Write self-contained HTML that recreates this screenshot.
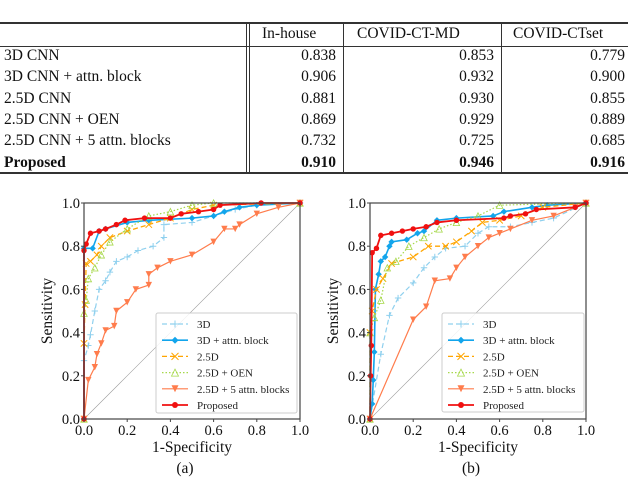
<!DOCTYPE html>
<html><head><meta charset="utf-8"><style>
body{margin:0;width:640px;height:481px;background:#fff;overflow:hidden;position:relative;font-family:"Liberation Serif",serif;}
.t{position:absolute;font-size:15.5px;line-height:1;white-space:nowrap;color:#111}
.rule{position:absolute;left:0;width:628px;background:#333}
.vl{position:absolute;width:1px;background:#333}
</style></head><body>
<div>
<div class="rule" style="top:22px;height:1.5px"></div>
<div class="rule" style="top:46px;height:1px"></div>
<div class="rule" style="top:172px;height:1.5px"></div>
<div class="vl" style="left:246px;top:22px;height:151px"></div>
<div class="vl" style="left:249px;top:22px;height:151px"></div>
<div class="vl" style="left:343px;top:22px;height:151px"></div>
<div class="vl" style="left:501px;top:22px;height:151px"></div>
<div class="t" style="left:262px;top:26px">In-house</div>
<div class="t" style="left:357px;top:26px">COVID-CT-MD</div>
<div class="t" style="left:513px;top:26px">COVID-CTset</div>
<div id="rows"></div>
</div>
<svg id="chart" width="640" height="481" style="position:absolute;left:0;top:0"></svg>
<script>
const rowNames=["3D CNN","3D CNN + attn. block","2.5D CNN","2.5D CNN + OEN","2.5D CNN + 5 attn. blocks","Proposed"];
const colInHouse=["0.838","0.906","0.881","0.869","0.732","0.910"];
const colMD=["0.853","0.932","0.930","0.929","0.725","0.946"];
const colSet=["0.779","0.900","0.855","0.889","0.685","0.916"];
const rowsEl=document.getElementById('rows');
rowNames.forEach((n,i)=>{
  const y=48+i*21.3, b=i===5?'font-weight:bold;':'';
  const cells=[[n,4,null],[colInHouse[i],null,336],[colMD[i],null,494],[colSet[i],null,625]];
  cells.forEach((c,j)=>{
    const d=document.createElement('div');d.className='t';d.textContent=c[0];
    d.style.cssText=b+'top:'+y+'px;'+(c[1]!==null?'left:'+c[1]+'px':'right:'+(640-c[2])+'px');
    
    
    rowsEl.appendChild(d);
  });
});
const seriesNames=["3D","3D + attn. block","2.5D","2.5D + OEN","2.5D + 5 attn. blocks","Proposed"];
const tickLabels=["0.0","0.2","0.4","0.6","0.8","1.0"];
const tickValues=[0,0.2,0.4,0.6,0.8,1];
const a3D=[[0,0],[0,0.27],[0.02,0.34],[0.03,0.39],[0.05,0.5],[0.07,0.6],[0.1,0.64],[0.12,0.68],[0.15,0.73],[0.2,0.75],[0.25,0.78],[0.32,0.8],[0.37,0.84],[0.37,0.9],[0.5,0.91],[0.6,0.94],[0.7,0.97],[0.8,0.99],[1,1]];
const a3DAttn=[[0,0],[0,0.79],[0.04,0.79],[0.07,0.87],[0.1,0.88],[0.2,0.91],[0.3,0.92],[0.5,0.93],[0.6,0.94],[0.65,0.96],[0.72,0.98],[0.8,0.99],[1,1]];
const a25D=[[0,0],[0,0.35],[0.005,0.53],[0.01,0.72],[0.03,0.73],[0.06,0.76],[0.08,0.8],[0.12,0.84],[0.2,0.87],[0.3,0.9],[0.4,0.93],[0.5,0.97],[0.6,0.99],[1,1]];
const aOEN=[[0,0],[0,0.49],[0.01,0.55],[0.02,0.65],[0.05,0.7],[0.08,0.76],[0.12,0.82],[0.2,0.88],[0.3,0.94],[0.4,0.96],[0.5,0.99],[0.6,1],[1,1]];
const a5Attn=[[0,0],[0.02,0.18],[0.05,0.24],[0.06,0.3],[0.08,0.35],[0.1,0.41],[0.14,0.43],[0.15,0.5],[0.2,0.54],[0.24,0.6],[0.3,0.62],[0.3,0.67],[0.34,0.7],[0.4,0.73],[0.5,0.76],[0.6,0.82],[0.65,0.88],[0.7,0.88],[0.72,0.9],[0.8,0.95],[0.9,0.98],[1,1]];
const aProp=[[0,0],[0,0.78],[0.01,0.81],[0.03,0.86],[0.07,0.87],[0.1,0.88],[0.15,0.9],[0.19,0.92],[0.28,0.93],[0.4,0.93],[0.45,0.95],[0.53,0.96],[0.6,0.97],[0.63,0.99],[0.82,1],[1,1]];
const b3D=[[0,0],[0.05,0.3],[0.09,0.48],[0.13,0.56],[0.2,0.63],[0.25,0.7],[0.3,0.75],[0.35,0.79],[0.44,0.8],[0.5,0.86],[0.55,0.89],[0.65,0.89],[0.75,0.91],[0.85,0.93],[1,1]];
const b3DAttn=[[0,0],[0.01,0.07],[0.015,0.18],[0.02,0.31],[0.025,0.6],[0.04,0.67],[0.05,0.73],[0.07,0.75],[0.09,0.8],[0.1,0.82],[0.17,0.83],[0.22,0.86],[0.25,0.87],[0.31,0.92],[0.4,0.93],[0.57,0.94],[0.62,0.96],[0.75,0.98],[0.82,0.99],[1,1]];
const b25D=[[0,0],[0,0.4],[0.01,0.5],[0.03,0.6],[0.06,0.65],[0.1,0.72],[0.2,0.75],[0.27,0.8],[0.35,0.8],[0.4,0.82],[0.47,0.87],[0.52,0.91],[0.6,0.92],[0.7,0.94],[0.8,0.98],[1,1]];
const bOEN=[[0,0],[0,0.4],[0.02,0.47],[0.05,0.55],[0.08,0.7],[0.12,0.73],[0.18,0.8],[0.25,0.84],[0.32,0.88],[0.4,0.91],[0.5,0.94],[0.6,0.99],[1,1]];
const b5Attn=[[0,0],[0.2,0.46],[0.26,0.52],[0.3,0.64],[0.37,0.65],[0.4,0.7],[0.44,0.75],[0.5,0.8],[0.55,0.84],[0.6,0.86],[0.65,0.88],[0.75,0.92],[0.85,0.94],[0.95,0.98],[1,1]];
const bProp=[[0,0],[0.003,0.2],[0.006,0.34],[0.01,0.77],[0.03,0.79],[0.05,0.85],[0.1,0.86],[0.15,0.87],[0.2,0.88],[0.26,0.89],[0.31,0.91],[0.4,0.92],[0.62,0.93],[0.65,0.94],[0.72,0.95],[0.77,0.97],[0.95,0.98],[1,1]];
const styles=[
 {c:'#8fd0ee',dash:'5,3',m:'plus',w:1.2},
 {c:'#12a5ec',dash:'',m:'diamond',w:1.6},
 {c:'#ffa500',dash:'5,3',m:'x',w:1.3},
 {c:'#a6d84a',dash:'1.5,2',m:'tri',w:1.2},
 {c:'#ff7c4c',dash:'',m:'tridown',w:1.2},
 {c:'#f01010',dash:'',m:'circle',w:1.8}];
const svg=document.getElementById('chart');const NS='http://www.w3.org/2000/svg';
function mk(t,at,p){const e=document.createElementNS(NS,t);for(const k in at)e.setAttribute(k,at[k]);(p||svg).appendChild(e);return e;}
function marker(g,m,x,y,c,s){
  let e;
  if(m==='plus')e=mk('path',{d:`M${x-s} ${y}H${x+s}M${x} ${y-s}V${y+s}`,stroke:c,'stroke-width':1},g);
  else if(m==='x')e=mk('path',{d:`M${x-s} ${y-s}L${x+s} ${y+s}M${x-s} ${y+s}L${x+s} ${y-s}`,stroke:c,'stroke-width':1},g);
  else if(m==='diamond')e=mk('path',{d:`M${x} ${y-s}L${x+s} ${y}L${x} ${y+s}L${x-s} ${y}Z`,fill:c},g);
  else if(m==='tri')e=mk('path',{d:`M${x} ${y-s}L${x+s} ${y+s}L${x-s} ${y+s}Z`,fill:'none',stroke:c,'stroke-width':0.8},g);
  else if(m==='tridown')e=mk('path',{d:`M${x} ${y+s}L${x+s} ${y-s}L${x-s} ${y-s}Z`,fill:c},g);
  else e=mk('circle',{cx:x,cy:y,r:s*0.85,fill:c},g);
  
  
}
function chart(L,R,T,B,data,tag,lg){
  const g=mk('g',{});
  
  
  const X=v=>L+v*(R-L), Y=v=>B-v*(B-T);
  mk('line',{x1:X(0),y1:Y(0),x2:X(1),y2:Y(1),stroke:'#999','stroke-width':0.6},g);
  data.forEach((d,i)=>{
    const st=styles[i];
    const p=mk('polyline',{points:d.map(q=>X(q[0])+','+Y(q[1])).join(' '),fill:'none',stroke:st.c,'stroke-width':st.w,'stroke-dasharray':st.dash},g);
    
    
    d.forEach(q=>marker(g,st.m,X(q[0]),Y(q[1]),st.c,3.2));
  });
  const f=mk('rect',{x:L,y:T,width:R-L,height:B-T,fill:'none',stroke:'#444','stroke-width':1.2},g);
  
  
  tickValues.forEach((v,i)=>{
    mk('line',{x1:X(v),y1:B,x2:X(v),y2:B+3,stroke:'#444'},g);
    mk('line',{x1:L-3,y1:Y(v),x2:L,y2:Y(v),stroke:'#444'},g);
    const tx=mk('text',{x:X(v),y:B+16,'text-anchor':'middle','font-size':14.5,fill:'#111'},g);tx.textContent=tickLabels[i];
    
    
    const ty=mk('text',{x:L-4,y:Y(v)+5,'text-anchor':'end','font-size':14.5,fill:'#111'},g);ty.textContent=tickLabels[i];
    
    
  });
  const xt=mk('text',{x:(L+R)/2,y:B+33,'text-anchor':'middle','font-size':15.5,fill:'#111'},g);xt.textContent='1-Specificity';
  
  
  const yt=mk('text',{x:0,y:0,'text-anchor':'middle','font-size':15.5,fill:'#111',transform:`translate(${L-32},${(T+B)/2}) rotate(-90)`},g);yt.textContent='Sensitivity';
  
  
  const cap=mk('text',{x:(L+R)/2-7,y:B+54,'text-anchor':'middle','font-size':15.5,fill:'#111'},g);cap.textContent='('+tag+')';
  
  
  const lgG=mk('g',{},g);
  
  
  mk('rect',{x:lg[0],y:lg[1],width:lg[2],height:lg[3],fill:'#fff','fill-opacity':0.85,stroke:'#ccc',rx:2},lgG);
  seriesNames.forEach((n,i)=>{
    const st=styles[i],yy=lg[1]+11+i*16.2,x0=lg[0]+6;
    mk('line',{x1:x0,y1:yy,x2:x0+26,y2:yy,stroke:st.c,'stroke-width':st.w,'stroke-dasharray':st.dash},lgG);
    marker(lgG,st.m,x0+13,yy,st.c,3.5);
    const t=mk('text',{x:x0+35,y:yy+4,'font-size':11,fill:'#222'},lgG);t.textContent=n;
    
    
  });
}
chart(84,300,203,419,[a3D,a3DAttn,a25D,aOEN,a5Attn,aProp],'a',[156,313,141,100]);
chart(370,586,203,419,[b3D,b3DAttn,b25D,bOEN,b5Attn,bProp],'b',[442,313,142,99]);
</script>
</body></html>
